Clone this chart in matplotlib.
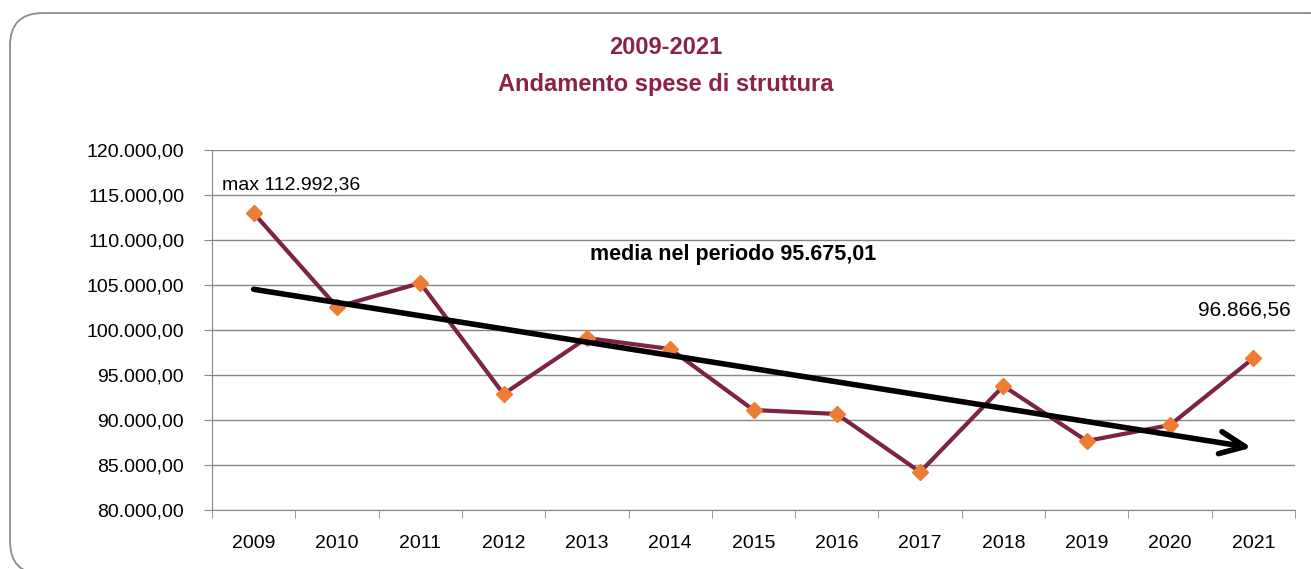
import numpy as np
import matplotlib.pyplot as plt
from matplotlib.patches import FancyBboxPatch
from matplotlib.ticker import FuncFormatter

plt.rcParams['font.family'] = ['Liberation Sans Narrow', 'Liberation Sans', 'DejaVu Sans']

anni = ['2009', '2010', '2011', '2012', '2013', '2014', '2015',
        '2016', '2017', '2018', '2019', '2020', '2021']
spese = [112992.36, 102560, 105220, 92890, 99110, 97890, 91110,
         90670, 84220, 93780, 87670, 89440, 96866.56]
media = 95675.01

def it_fmt(v, pos=None):
    s = f"{v:,.2f}"
    return s.replace(',', 'X').replace('.', ',').replace('X', '.')

fig = plt.figure(figsize=(13.11, 5.69), dpi=100)
box = FancyBboxPatch((10/1311, -5/569), 1330/1311, 561/569,
                     boxstyle="round,pad=0,rounding_size=0.025",
                     transform=fig.transFigure, fc='white', ec='#8c8c8c', lw=1.3,
                     mutation_aspect=1311/569, zorder=-10)
fig.patches.append(box)

ax = fig.add_axes([212/1311, 59/569, 1083/1311, 360/569])
ax.patch.set_alpha(0)
x = np.arange(len(anni))
ax.plot(x, spese, color='#7f2345', lw=3, marker='D', ms=8,
        mfc='#ed7d31', mec='#ed7d31', zorder=3)

# trend line (linear fit)
k, q = np.polyfit(x, spese, 1)
ax.annotate('', xy=(x[-1] - 0.02, k * x[-1] + q), xytext=(x[0], k * x[0] + q),
            arrowprops=dict(arrowstyle='->,head_length=1.8,head_width=0.8',
                            color='black', lw=4, shrinkA=0, shrinkB=0), zorder=4)

ax.set_xlim(-0.5, len(anni) - 0.5)
ax.set_ylim(80000, 120000)
ax.set_yticks(np.arange(80000, 120001, 5000))
ax.yaxis.set_major_formatter(FuncFormatter(it_fmt))
ax.set_xticks(x)
ax.set_xticklabels(anni)
ax.set_xticks(np.arange(-0.5, len(anni)), minor=True)
ax.tick_params(axis='x', which='major', length=0, pad=18, labelsize=14)
ax.tick_params(axis='x', which='minor', length=6, color='#888888')
ax.tick_params(axis='y', length=6, color='#888888', labelsize=14, pad=14)
ax.grid(axis='y', color='#888888', lw=1)
ax.set_axisbelow(True)
for s in ['top', 'right']:
    ax.spines[s].set_visible(False)
for s in ['left', 'bottom']:
    ax.spines[s].set_color('#888888')

ax.text(-0.38, 116100, 'max ' + it_fmt(spese[0]), fontsize=14, va='center')
ax.text(x[-1] + 0.45, 102200, it_fmt(spese[-1]), fontsize=15, ha='right', va='center')
ax.text(5.75, 108400, 'media nel periodo ' + it_fmt(media), fontsize=15.5,
        fontweight='bold', ha='center', va='center')

fig.text(666/1311, 1 - 48/569, '2009-2021', color='#8b2346', fontsize=17,
         fontweight='bold', ha='center', va='center')
fig.text(666/1311, 1 - 85/569, 'Andamento spese di struttura', color='#8b2346',
         fontsize=17, fontweight='bold', ha='center', va='center')

fig.savefig('out.png', dpi=100)
